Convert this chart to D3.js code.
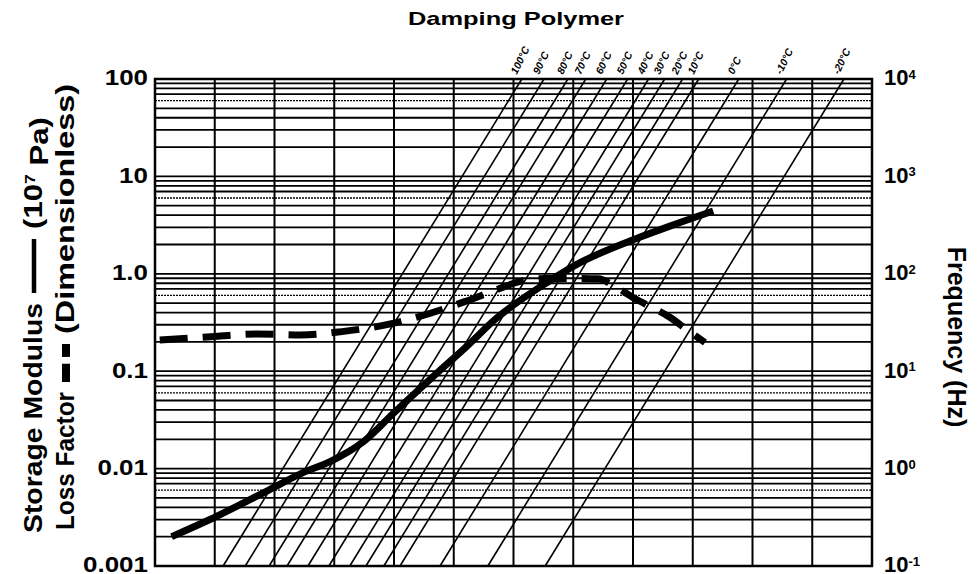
<!DOCTYPE html>
<html>
<head>
<meta charset="utf-8">
<script src="https://cdn.jsdelivr.net/npm/d3@7"></script>
<style>
  html, body { margin: 0; padding: 0; background: #fff; }
  svg { display: block; }
  text { font-family: "Liberation Sans", Arial, sans-serif; font-weight: bold; fill: #000; }
</style>
</head>
<body>
<svg id="chart" width="977" height="574"></svg>
<script>
// ---------------- DATA ----------------
const leftTickValues = [0.001, 0.01, 0.1, 1, 10, 100];
const leftTickLabels = ["0.001", "0.01", "0.1", "1.0", "10", "100"];
const rightTickValues = [0.1, 1, 10, 100, 1000, 10000];
const rightTickExponents = ["-1", "0", "1", "2", "3", "4"];

// isotherms: temperature labels and their shift factors aT (reduced freq = f * aT)
const temperatures = ["100°C", "90°C", "80°C", "70°C", "60°C", "50°C", "40°C", "30°C", "20°C", "10°C", "0°C", "-10°C", "-20°C"];
const shiftFactors = [0.0138, 0.0324, 0.0813, 0.162, 0.363, 0.813, 1.82, 3.39, 6.76, 12.6, 58.9, 372, 3390];

// storage modulus (10^7 Pa) vs reduced frequency
const modulusReducedFreq = [1.9e-4, 8.3e-4, 8.3e-3, 0.030, 0.085, 0.31, 0.98, 4.6, 16.5, 52, 360, 1300, 8900, 6.1e4, 2.2e5];
const storageModulus     = [0.0020, 0.0030, 0.0061, 0.0091, 0.0118, 0.019, 0.037, 0.089, 0.18, 0.35, 0.81, 1.30, 2.17, 3.36, 4.42];

// loss factor vs reduced frequency
const lossReducedFreq = [1.2e-4, 1e-3, 5.1e-3, 0.027, 0.135, 0.63, 2.7, 15.5, 49, 129, 363, 1070, 2600, 5000, 1.07e4, 2.1e4, 4.2e4, 7.9e4, 1.6e5];
const lossFactor      = [0.209, 0.227, 0.241, 0.235, 0.255, 0.294, 0.365, 0.52, 0.675, 0.835, 0.897, 0.897, 0.887, 0.741, 0.558, 0.451, 0.356, 0.268, 0.197];

const reducedFreqDecades = d3.range(-4, 9).map(k => Math.pow(10, k));

// ---------------- LAYOUT ----------------
const svg = d3.select("#chart");
const L = 155, R = 872, T = 79, B = 566;
const FONT = "'Liberation Sans', Arial, sans-serif";

const x = d3.scaleLog().domain([1e-4, 1e8]).range([L, R]);
const yL = d3.scaleLog().domain([0.001, 100]).range([B, T]);
const yR = d3.scaleLog().domain([0.1, 1e4]).range([B, T]);

// horizontal log grid (1..9 per decade)
const hGrid = [];
for (let k = -3; k <= 1; k++) for (let d = 1; d <= 9; d++) hGrid.push(d * Math.pow(10, k));
hGrid.push(100);

const grid = svg.append("g");
grid.selectAll("line.h").data(hGrid).join("line")
  .attr("x1", L).attr("x2", R)
  .attr("y1", d => yL(d)).attr("y2", d => yL(d))
  .attr("stroke", "#000")
  .attr("stroke-width", (d, i) => (i % 9 === 5) ? 1.3 : 1.8)
  .attr("stroke-dasharray", (d, i) => (i % 9 === 5) ? "2,1" : null);

grid.selectAll("line.v").data(reducedFreqDecades).join("line")
  .attr("x1", d => x(d)).attr("x2", d => x(d))
  .attr("y1", T).attr("y2", B)
  .attr("stroke", "#000").attr("stroke-width", 2);

// isotherm lines
const isoLine = d3.line().x(d => x(d[0])).y(d => yR(d[1]));
svg.append("g").selectAll("path").data(shiftFactors).join("path")
  .attr("d", a => isoLine([[a * 0.1, 0.1], [a * 1e4, 1e4]]))
  .attr("fill", "none").attr("stroke", "#000").attr("stroke-width", 1.6);

// isotherm labels
svg.append("g").selectAll("text").data(shiftFactors).join("text")
  .attr("transform", a => `translate(${x(a * 1e4) - 5},${T - 4}) rotate(-64)`)
  .style("font-size", "10.5px")
  .style("font-style", "italic")
  .text((a, i) => temperatures[i]);

// frame
svg.append("rect").attr("x", L).attr("y", T).attr("width", R - L).attr("height", B - T)
  .attr("fill", "none").attr("stroke", "#000").attr("stroke-width", 2.5);

// curves
const modLine = d3.line().curve(d3.curveMonotoneX)
  .x((d, i) => x(modulusReducedFreq[i])).y(d => yL(d));
svg.append("path").datum(storageModulus)
  .attr("d", modLine).attr("fill", "none")
  .attr("stroke", "#000").attr("stroke-width", 7).attr("stroke-linecap", "butt");

const lossLine = d3.line().curve(d3.curveMonotoneX)
  .x((d, i) => x(lossReducedFreq[i])).y(d => yL(d));
svg.append("path").datum(lossFactor)
  .attr("d", lossLine).attr("fill", "none")
  .attr("stroke", "#000").attr("stroke-width", 7).attr("stroke-dasharray", "28,15");

function stretch(sel, k) {
  sel.each(function () {
    const w = this.getComputedTextLength();
    d3.select(this).attr("textLength", w * k).attr("lengthAdjust", "spacingAndGlyphs");
  });
}

// left axis
const axL = svg.append("g").attr("transform", `translate(${L},0)`)
  .call(d3.axisLeft(yL).tickValues(leftTickValues)
    .tickFormat((d, i) => leftTickLabels[i]).tickSize(0).tickPadding(7));
axL.select(".domain").remove();
axL.selectAll("text").style("font-size", "22px").style("font-family", FONT)
  .style("font-weight", "bold").attr("fill", "#000").attr("dy", "0.27em");
stretch(axL.selectAll("text"), 1.18);

// right axis
const axR = svg.append("g").attr("transform", `translate(${R},0)`)
  .call(d3.axisRight(yR).tickValues(rightTickValues).tickFormat(() => "").tickSize(0).tickPadding(12));
axR.select(".domain").remove();
axR.selectAll("text").each(function (d, i) {
  const t = d3.select(this);
  t.style("font-size", "22px").style("font-family", FONT).style("font-weight", "bold")
    .attr("fill", "#000").attr("dy", "0.27em");
  t.append("tspan").text("10");
  t.append("tspan").attr("dy", "-0.5em").style("font-size", "13px").text(rightTickExponents[i]);
});

// top title
svg.append("text").attr("x", 516).attr("y", 25).attr("text-anchor", "middle")
  .attr("textLength", 216).attr("lengthAdjust", "spacingAndGlyphs")
  .style("font-size", "19px").text("Damping Polymer");

// right title
svg.append("text").attr("transform", "translate(948,337) rotate(90)").attr("text-anchor", "middle")
  .style("font-size", "25px").text("Frequency (Hz)");

// left titles with line symbols
function titleRow(xBase, yBottom, first, firstLen, symbol, symLen, last, lastLen) {
  const g = svg.append("g").attr("transform", `translate(${xBase},${yBottom}) rotate(-90)`);
  g.append("text").attr("x", 0).attr("y", 0).style("font-size", "25px")
    .attr("textLength", firstLen).attr("lengthAdjust", "spacingAndGlyphs").text(first);
  let pos = firstLen + 10;
  if (symbol === "solid") {
    g.append("line").attr("x1", pos).attr("x2", pos + symLen).attr("y1", -8).attr("y2", -8)
      .attr("stroke", "#000").attr("stroke-width", 4.5);
  } else {
    g.append("line").attr("x1", pos).attr("x2", pos + symLen * 0.48).attr("y1", -8).attr("y2", -8)
      .attr("stroke", "#000").attr("stroke-width", 8);
    g.append("line").attr("x1", pos + symLen * 0.66).attr("x2", pos + symLen).attr("y1", -8).attr("y2", -8)
      .attr("stroke", "#000").attr("stroke-width", 8);
  }
  pos += symLen + 10;
  const t2 = g.append("text").attr("x", pos).attr("y", 0).style("font-size", "25px");
  if (lastLen) t2.attr("textLength", lastLen).attr("lengthAdjust", "spacingAndGlyphs");
  last.forEach(p => {
    const s = t2.append("tspan").text(p.t);
    if (p.sup) s.attr("dy", "-0.5em").style("font-size", "14px");
    if (p.down) s.attr("dy", "0.5em");
  });
}
titleRow(42, 533, "Storage Modulus", 230, "solid", 54, [{ t: "(10" }, { t: "7", sup: true }, { t: " Pa)", down: true }], 112);
titleRow(74, 530, "Loss Factor", 138, "dashed", 38, [{ t: "(Dimensionless)" }], 250);
</script>
</body>
</html>
